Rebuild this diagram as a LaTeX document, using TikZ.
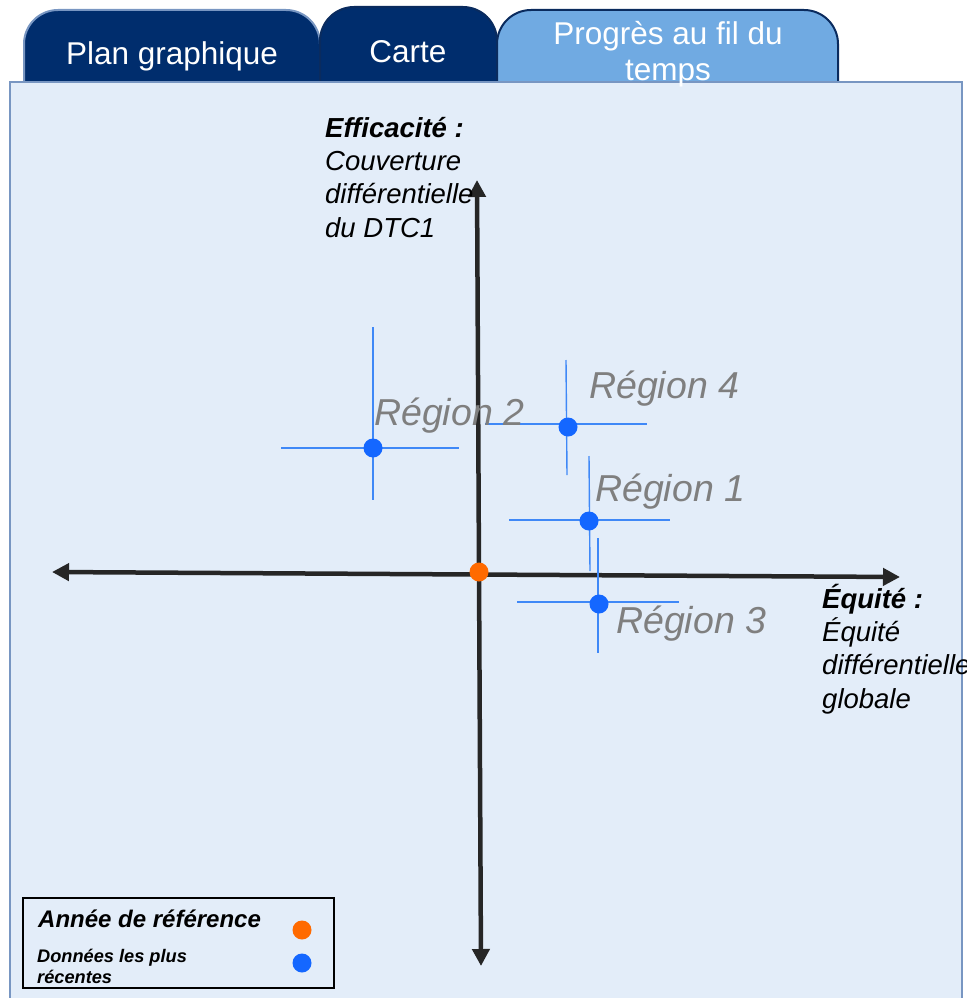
\documentclass[tikz,border=0pt]{standalone}
\usepackage{fontspec}
\setmainfont{Liberation Sans}
\usetikzlibrary{arrows.meta}
\definecolor{panelbg}{HTML}{E3EDF9}
\definecolor{panelborder}{HTML}{7896C2}
\definecolor{navy}{HTML}{002D6D}
\definecolor{tablight}{HTML}{70AAE2}
\definecolor{tabborder}{HTML}{0A2B5E}
\definecolor{axisgray}{HTML}{262626}
\definecolor{ptblue}{HTML}{1467FF}
\definecolor{barblue}{HTML}{3F88F7}
\definecolor{orangept}{HTML}{FF6A00}
\definecolor{labelgray}{HTML}{7F7F7F}
\tikzset{
  tabshape/.style={line width=2pt, rounded corners=34pt},
  tabtext/.style={text=white, inner sep=0pt, font=\fontsize{31.5}{36}\selectfont, align=center},
  axisline/.style={draw=axisgray, line width=4.5pt, {Triangle[length=17pt,width=17pt]}-{Triangle[length=17pt,width=17pt]}},
  errbar/.style={draw=barblue, line width=1.4pt},
  dotpt/.style={circle, fill=#1, inner sep=0pt, minimum size=19pt},
  reglabel/.style={text=labelgray, inner sep=0pt, anchor=base west, font=\fontsize{37.5}{44}\selectfont\itshape},
  axlabel/.style={inner sep=0pt, anchor=base west, align=left, font=\fontsize{27.5}{33.3}\selectfont\itshape},
}
\begin{document}
\begin{tikzpicture}[x=1pt,y=-1pt]
\useasboundingbox (0,0) rectangle (966,998);
% panel
\fill[panelbg] (10,82) rectangle (962,1000);
% tabs
\filldraw[tabshape, fill=navy, draw=panelborder] (24,82) -- (24,10) -- (320,10) -- (320,82);
\filldraw[tabshape, fill=navy, draw=tabborder] (320,82) -- (320,7) -- (497,7) -- (497,82);
\filldraw[tabshape, fill=tablight, draw=tabborder] (497,82) -- (497,10) -- (838,10) -- (838,82);
\draw[panelborder, line width=2pt] (10,1000) -- (10,82) -- (962,82) -- (962,1000);
\node[tabtext, anchor=base] (tab1) at (172,64) {Plan graphique};
\node[tabtext, anchor=base] (tab2) at (408,63) {Carte};
\node[tabtext, anchor=base] (tab3a) at (668,45) {Progrès au fil du};
\node[tabtext, anchor=base] (tab3b) at (668,81) {temps};
% axes
\coordinate (xl) at (52,572);
\coordinate (xr) at (900,577);
\coordinate (yt) at (477,180);
\coordinate (yb) at (481,966);
\draw[axisline] (xl) -- (xr);
\draw[axisline] (yb) -- (yt);
% error bars
\draw[errbar] (281,448) -- (459,448);
\draw[errbar] (373,327) -- (373,500);
\draw[errbar] (485,424) -- (647,424);
\draw[errbar] (566,360) -- (567,475);
\draw[errbar] (509,520) -- (670,520);
\draw[errbar] (589,456) -- (590,571);
\draw[errbar] (517,602) -- (679,602);
\draw[errbar] (598,538) -- (598,653);
% points
\node[dotpt=ptblue] (r2) at (373,448) {};
\node[dotpt=ptblue] (r4) at (568,427) {};
\node[dotpt=ptblue] (r1) at (589,521) {};
\node[dotpt=ptblue] (r3) at (599,604) {};
\node[dotpt=orangept] (base) at (479,572) {};
% region labels
\node[reglabel] (l4) at (589,398) {Région 4};
\node[reglabel] (l2) at (374,425) {Région 2};
\node[reglabel] (l1) at (595,501) {Région 1};
\node[reglabel] (l3) at (616,633) {Région 3};
% axis labels (base = baseline of last line)
\node[axlabel] (ylab) at (325,237) {\textbf{Efficacité :}\\Couverture\\différentielle\\du DTC1};
\node[axlabel] (xlab) at (822,708) {\textbf{Équité :}\\Équité\\différentielle\\globale};
% legend
\node[draw=black, line width=2pt, fill=panelbg, inner sep=0pt, minimum width=311pt, minimum height=90pt, anchor=north west] (legend) at (22,897) {};
\node[inner sep=0pt, anchor=base west, font=\fontsize{24}{28}\selectfont\bfseries\itshape] (leg1) at (38,927) {Année de référence};
\node[inner sep=0pt, anchor=base west, align=left, font=\fontsize{18.2}{21}\selectfont\bfseries\itshape] (leg2) at (37,983) {Données les plus\\récentes};
\node[dotpt=orangept] (legdot1) at (302,930) {};
\node[dotpt=ptblue] (legdot2) at (302,963) {};
\end{tikzpicture}
\end{document}
